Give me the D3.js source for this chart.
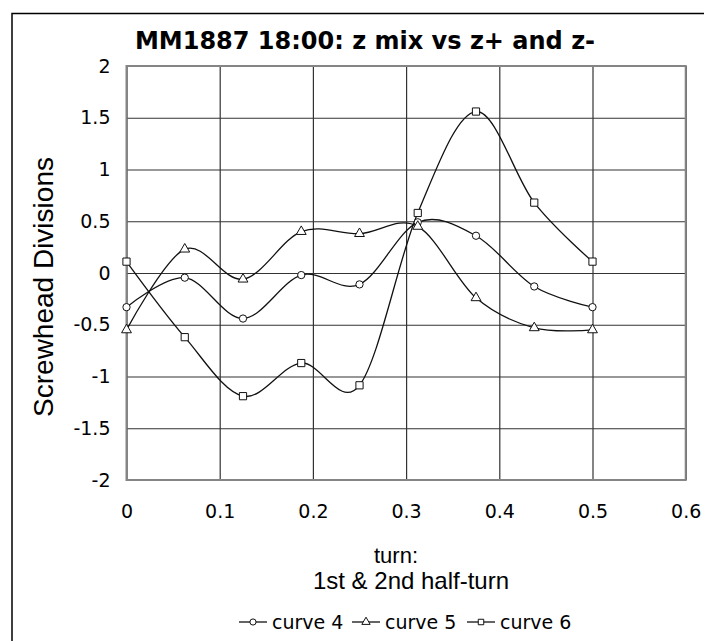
<!DOCTYPE html>
<html>
<head>
<meta charset="utf-8">
<script src="https://cdn.jsdelivr.net/npm/d3@7"></script>
<style>
  body { margin: 0; background: #fff; }
  svg { display: block; }
</style>
</head>
<body>
<div id="chart"></div>
<script>
// data
const turn = [0, 0.0625, 0.125, 0.1875, 0.25, 0.3125, 0.375, 0.4375, 0.5];
const curve4 = [-0.33, -0.045, -0.44, -0.02, -0.11, 0.49, 0.36, -0.13, -0.33];
const curve5 = [-0.55, 0.23, -0.06, 0.40, 0.38, 0.45, -0.24, -0.53, -0.55];
const curve6 = [0.11, -0.62, -1.19, -0.87, -1.085, 0.58, 1.56, 0.68, 0.11];
const seriesNames = ["curve 4", "curve 5", "curve 6"];
const xTicks = [0, 0.1, 0.2, 0.3, 0.4, 0.5, 0.6];
const yTicks = [-2, -1.5, -1, -0.5, 0, 0.5, 1, 1.5, 2];

// set dimensions
const width = 704,
    height = 641,
    plot = { left: 126.5, right: 685.7, top: 66, bottom: 480 };

const svg = d3.select("#chart")
    .append("svg")
    .attr("width", width)
    .attr("height", height);

// outer chart frame (runs off the right and bottom edge)
svg.append("rect")
    .attr("x", 12).attr("y", 13.5)
    .attr("width", 720).attr("height", 660)
    .attr("fill", "none")
    .attr("stroke", "#000")
    .attr("stroke-width", 1.5);

// scales
const xScale = d3.scaleLinear().domain([0, 0.6]).range([plot.left, plot.right]);
const yScale = d3.scaleLinear().domain([-2, 2]).range([plot.bottom, plot.top]);

// grid lines
svg.append("g")
    .attr("transform", `translate(0,${plot.bottom})`)
    .call(d3.axisBottom(xScale).tickValues(xTicks).tickSize(-(plot.bottom - plot.top)).tickFormat(""))
    .call(g => g.select(".domain").remove())
    .call(g => g.selectAll("line").attr("stroke", "#333").attr("stroke-width", 1.2));

svg.append("g")
    .attr("transform", `translate(${plot.left},0)`)
    .call(d3.axisLeft(yScale).tickValues(yTicks).tickSize(-(plot.right - plot.left)).tickFormat(""))
    .call(g => g.select(".domain").remove())
    .call(g => g.selectAll("line").attr("stroke", "#333").attr("stroke-width", 1.2));

// plot border
svg.append("rect")
    .attr("x", plot.left).attr("y", plot.top)
    .attr("width", plot.right - plot.left)
    .attr("height", plot.bottom - plot.top)
    .attr("fill", "none")
    .attr("stroke", "#858585")
    .attr("stroke-width", 2);

// tick labels (plain hyphen for negatives, like the original)
const tickFont = "'DejaVu Sans', Verdana, sans-serif";
const fmt = d => String(d);
const xAxis = svg.append("g")
    .attr("transform", `translate(0,${plot.bottom})`)
    .call(d3.axisBottom(xScale).tickValues(xTicks).tickSize(0).tickPadding(25).tickFormat(fmt));
xAxis.select(".domain").remove();
xAxis.selectAll("text").attr("font-family", tickFont).attr("font-size", 19).attr("fill", "#000");

const yAxis = svg.append("g")
    .attr("transform", `translate(${plot.left},0)`)
    .call(d3.axisLeft(yScale).tickValues(yTicks).tickSize(0).tickPadding(16).tickFormat(fmt));
yAxis.select(".domain").remove();
yAxis.selectAll("text").attr("font-family", tickFont).attr("font-size", 19).attr("fill", "#000");

// title
svg.append("text")
    .attr("x", 365).attr("y", 49)
    .attr("text-anchor", "middle")
    .attr("font-family", tickFont)
    .attr("font-weight", "bold")
    .attr("font-size", 24)
    .text("MM1887 18:00: z mix vs z+ and z-");

// axis titles
const titleFont = "'Liberation Sans', Arial, sans-serif";
svg.append("text")
    .attr("x", 396).attr("y", 563)
    .attr("text-anchor", "middle")
    .attr("font-family", titleFont).attr("font-size", 22)
    .text("turn:");
svg.append("text")
    .attr("x", 411).attr("y", 589)
    .attr("text-anchor", "middle")
    .attr("font-family", titleFont).attr("font-size", 24)
    .text("1st & 2nd half-turn");
svg.append("text")
    .attr("transform", "translate(53,287) rotate(-90)")
    .attr("text-anchor", "middle")
    .attr("font-family", titleFont).attr("font-size", 28)
    .text("Screwhead Divisions");

// series
const series = [curve4, curve5, curve6].map((vals, i) => ({
    name: seriesNames[i],
    marker: ["circle", "triangle", "square"][i],
    points: vals.map((v, j) => ({ x: turn[j], y: v }))
}));

const line = d3.line()
    .x(d => xScale(d.x))
    .y(d => yScale(d.y))
    .curve(d3.curveCardinal.tension(0));

const symbolType = { circle: d3.symbolCircle, triangle: d3.symbolTriangle, square: d3.symbolSquare };
const symbolSize = { circle: 42, triangle: 42, square: 52 };

series.forEach(s => {
    svg.append("path")
        .datum(s.points)
        .attr("d", line)
        .attr("fill", "none")
        .attr("stroke", "#111")
        .attr("stroke-width", 1.3);
});

series.forEach(s => {
    svg.append("g").selectAll("path")
        .data(s.points)
        .enter()
        .append("path")
        .attr("d", d3.symbol().type(symbolType[s.marker]).size(symbolSize[s.marker]))
        .attr("transform", d => `translate(${xScale(d.x)},${yScale(d.y)})`)
        .attr("fill", "#fff")
        .attr("stroke", "#111")
        .attr("stroke-width", 1);
});

// legend
const legendX = [239, 352, 467];
const legend = svg.append("g")
    .selectAll("g")
    .data(series)
    .enter()
    .append("g")
    .attr("transform", (d, i) => `translate(${legendX[i]},622)`);

legend.append("line")
    .attr("x1", 0).attr("x2", 28)
    .attr("stroke", "#111")
    .attr("stroke-width", 1.3);

legend.append("path")
    .attr("d", d => d3.symbol().type(symbolType[d.marker]).size(30)())
    .attr("transform", "translate(14,0)")
    .attr("fill", "#fff")
    .attr("stroke", "#111")
    .attr("stroke-width", 1);

legend.append("text")
    .attr("x", 33)
    .attr("y", 0)
    .attr("dy", "0.35em")
    .attr("font-family", tickFont)
    .attr("font-size", 19)
    .text(d => d.name);
</script>
</body>
</html>
